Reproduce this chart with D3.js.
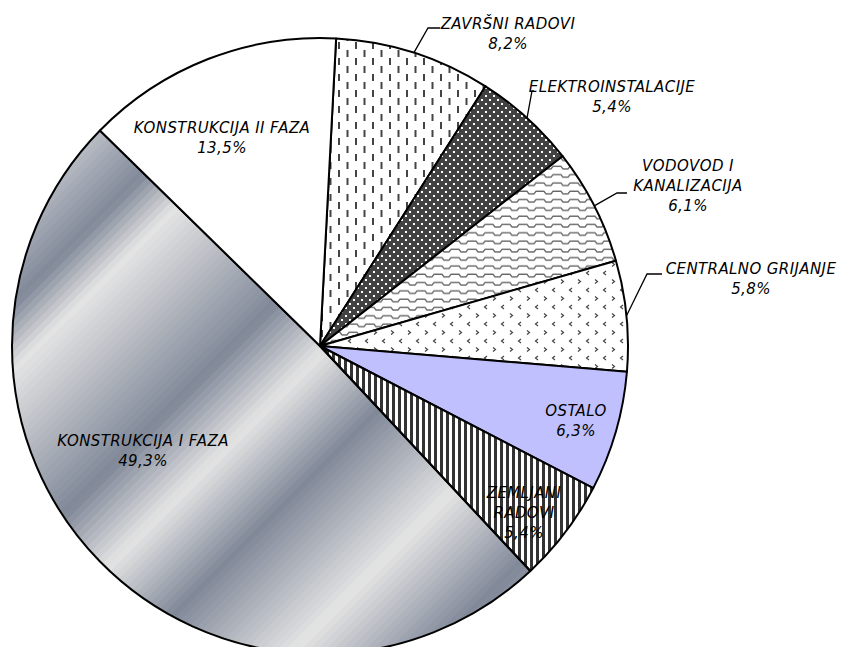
<!DOCTYPE html>
<html>
<head>
<meta charset="utf-8">
<script src="https://cdn.jsdelivr.net/npm/d3@7"></script>
<style>
  body { margin: 0; background: #fff; }
  text { font-family: "DejaVu Sans", sans-serif; font-style: italic; }
</style>
</head>
<body>
<div id="chart"></div>
<script>
// chart data
var categories = ["ZAVRŠNI RADOVI", "ELEKTROINSTALACIJE", "VODOVOD I KANALIZACIJA",
  "CENTRALNO GRIJANJE", "OSTALO", "ZEMLJANI RADOVI", "KONSTRUKCIJA I FAZA", "KONSTRUKCIJA II FAZA"];
var values = [8.2, 5.4, 6.1, 5.8, 6.3, 5.4, 49.3, 13.5];
var labelLines = [["ZAVRŠNI RADOVI"], ["ELEKTROINSTALACIJE"], ["VODOVOD I", "KANALIZACIJA"],
  ["CENTRALNO GRIJANJE"], ["OSTALO"], ["ZEMLJANI", "RADOVI"], ["KONSTRUKCIJA I FAZA"], ["KONSTRUKCIJA II FAZA"]];

// layout
var svgWidth = 842, svgHeight = 647;
var cx = 320, cy = 346, radius = 308;
var startDeg = 3;
var chromeSlice = 6;
var fills = ["url(#dashes)", "url(#dots)", "url(#waves)", "url(#chevrons)", "#c0c0ff",
  "url(#stripes)", "none", "#ffffff"];
// first line centre of each label
var labelAt = [[508, 24], [612, 87], [688, 166], [751, 269], [576, 411], [524, 493], [143, 441], [222, 127.5]];
// leader lines: elbow x, elbow y, end x (only for outside labels)
var leaders = [[428, 28, 440], [532, 91, 534], [617, 193, 627], [647, 274, 662], null, null, null, null];

var locale = d3.formatLocale({ decimal: ",", thousands: ".", grouping: [3], currency: ["", ""] });
var fmt = locale.format(".1f");

var svg = d3.select("#chart").append("svg")
  .attr("width", svgWidth)
  .attr("height", svgHeight);

svg.append("rect").attr("width", svgWidth).attr("height", svgHeight).attr("fill", "#fff");

var defs = svg.append("defs");

// vertical dashes
var p = defs.append("pattern").attr("id", "dashes").attr("patternUnits", "userSpaceOnUse")
  .attr("width", 17).attr("height", 16);
p.append("rect").attr("width", 17).attr("height", 16).attr("fill", "#fff");
p.append("rect").attr("x", 1).attr("y", 0).attr("width", 2).attr("height", 7).attr("fill", "#444");
p.append("rect").attr("x", 9.5).attr("y", 8).attr("width", 2).attr("height", 7).attr("fill", "#444");

// white dots on dark
p = defs.append("pattern").attr("id", "dots").attr("patternUnits", "userSpaceOnUse")
  .attr("width", 8).attr("height", 8);
p.append("rect").attr("width", 8).attr("height", 8).attr("fill", "#424242");
p.append("rect").attr("x", 1).attr("y", 1).attr("width", 2).attr("height", 2).attr("fill", "#fff");
p.append("rect").attr("x", 5).attr("y", 5).attr("width", 2).attr("height", 2).attr("fill", "#fff");

// waves
p = defs.append("pattern").attr("id", "waves").attr("patternUnits", "userSpaceOnUse")
  .attr("width", 17).attr("height", 8.3);
p.append("rect").attr("width", 17).attr("height", 8.3).attr("fill", "#fff");
p.append("path").attr("d", "M0,3 H3 L5,5.5 H10 L12,3 H17")
  .attr("fill", "none").attr("stroke", "#666").attr("stroke-width", 1.3);

// chevrons
p = defs.append("pattern").attr("id", "chevrons").attr("patternUnits", "userSpaceOnUse")
  .attr("width", 17).attr("height", 17);
p.append("rect").attr("width", 17).attr("height", 17).attr("fill", "#fff");
p.append("path").attr("d", "M3,1.5 l2.5,2 l-2.5,2 M14,10 l-2.5,2 l2.5,2")
  .attr("fill", "none").attr("stroke", "#444").attr("stroke-width", 1.2);

// vertical stripes
p = defs.append("pattern").attr("id", "stripes").attr("patternUnits", "userSpaceOnUse")
  .attr("width", 6).attr("height", 10);
p.append("rect").attr("width", 6).attr("height", 10).attr("fill", "#fff");
p.append("rect").attr("x", 0).attr("width", 3).attr("height", 10).attr("fill", "#333");

var pie = d3.pie()
  .sort(null)
  .startAngle(startDeg * Math.PI / 180)
  .endAngle(startDeg * Math.PI / 180 + 2 * Math.PI);

var arc = d3.arc().innerRadius(0).outerRadius(radius);

var slices = pie(values);

var pieGroup = svg.append("g").attr("transform", `translate(${cx}, ${cy})`);

// banded chrome fill for the big slice, drawn as clipped diagonal bands
defs.append("clipPath").attr("id", "chromeClip")
  .append("path").attr("d", arc(slices[chromeSlice]));

var gradOffsets = [0, 0.10, 0.175, 0.40, 0.51, 0.64, 0.82, 0.98, 1];
var gradColors = ["#b8bcc4", "#808898", "#e4e4e4", "#808898", "#e4e4e4", "#808898", "#e4e4e4", "#808898", "#8890a0"];
var gradScale = d3.scaleLinear().domain(gradOffsets).range(gradColors);
var bands = 110;
var bandScale = d3.scaleLinear().domain([0, bands]).range([-radius, radius]);

pieGroup.append("g")
  .attr("clip-path", "url(#chromeClip)")
  .append("g")
  .attr("transform", "rotate(45)")
  .selectAll("rect")
  .data(d3.range(bands))
  .enter()
  .append("rect")
  .attr("x", b => bandScale(b))
  .attr("y", -radius - 2)
  .attr("width", bandScale(1) - bandScale(0) + 0.6)
  .attr("height", 2 * radius + 4)
  .attr("fill", b => gradScale((b + 0.5) / bands));

pieGroup.selectAll("path.slice")
  .data(slices)
  .enter()
  .append("path")
  .attr("class", "slice")
  .attr("d", arc)
  .attr("fill", (s, i) => fills[i])
  .attr("stroke", "#000")
  .attr("stroke-width", 2)
  .attr("stroke-linejoin", "round");

// leader lines
slices.forEach((s, i) => {
  var l = leaders[i];
  if (!l) return;
  var a = (s.startAngle + s.endAngle) / 2;
  var x0 = cx + radius * Math.sin(a), y0 = cy - radius * Math.cos(a);
  svg.append("polyline")
    .attr("points", `${x0},${y0} ${l[0]},${l[1]} ${l[2]},${l[1]}`)
    .attr("fill", "none")
    .attr("stroke", "#000")
    .attr("stroke-width", 1.3);
});

// labels
slices.forEach((s, i) => {
  var lines = labelLines[i].concat([fmt(values[i]) + "%"]);
  var t = svg.append("text")
    .attr("text-anchor", "middle")
    .attr("font-size", 15)
    .attr("letter-spacing", 0.4)
    .attr("fill", "#000");
  lines.forEach((ln, j) => {
    t.append("tspan")
      .attr("x", labelAt[i][0])
      .attr("y", labelAt[i][1] + j * 20)
      .attr("dy", "0.36em")
      .text(ln);
  });
});
</script>
</body>
</html>
